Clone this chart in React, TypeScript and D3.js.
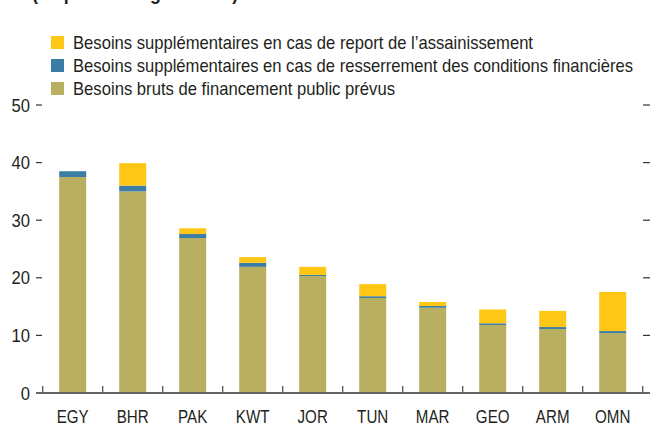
import React, { useRef, useEffect } from 'react';
import * as d3 from 'd3';

// Countries (x axis)
const countries = ['EGY', 'BHR', 'PAK', 'KWT', 'JOR', 'TUN', 'MAR', 'GEO', 'ARM', 'OMN'];

// Stacked series, % of GDP
const grossNeeds = [37.5, 35.0, 26.9, 21.9, 20.3, 16.5, 14.8, 11.8, 11.1, 10.4];
const tighteningNeeds = [1.0, 1.0, 0.7, 0.7, 0.2, 0.3, 0.3, 0.3, 0.35, 0.35];
const delayNeeds = [0.0, 3.9, 1.0, 1.0, 1.4, 2.1, 0.7, 2.4, 2.8, 6.8];

const yTicks = [0, 10, 20, 30, 40, 50];

const seriesLabels = [
  'Besoins supplémentaires en cas de report de l’assainissement',
  'Besoins supplémentaires en cas de resserrement des conditions financières',
  'Besoins bruts de financement public prévus',
];
const seriesColors = ['#FEC715', '#3B7DA5', '#B8B060'];

const FONT = '"Liberation Sans", Arial, sans-serif';
const SQUEEZE = 0.82; // condensed look

const App = () => {
  const ref = useRef<SVGSVGElement>(null);
  const width = 650;
  const height = 425;

  useEffect(() => {
    const svg = d3.select(ref.current);
    svg.selectAll('*').remove();

    const x = d3.scaleBand()
      .domain(countries)
      .range([42.7, 642.7])
      .paddingInner(0.55)
      .paddingOuter(0.275);

    const y = d3.scaleLinear()
      .domain([0, 50])
      .range([393, 105]);

    const rows = countries.map((c, i) => ({
      country: c,
      gross: grossNeeds[i],
      tight: tighteningNeeds[i],
      delay: delayNeeds[i],
    }));

    const stack = d3.stack().keys(['gross', 'tight', 'delay']);
    const layers = stack(rows as any);
    const layerColors = [seriesColors[2], seriesColors[1], seriesColors[0]];

    // Title (cut off at top, only descenders show)
    svg.append('text')
      .attr('transform', 'translate(32,0) scale(0.85,1)')
      .attr('font-family', FONT)
      .attr('font-weight', 'bold')
      .attr('font-size', 21)
      .attr('fill', '#231F20')
      .text('(en pourcentage du PIB)');

    // Bars
    layers.forEach((layer, li) => {
      svg.append('g')
        .attr('fill', layerColors[li])
        .selectAll('rect')
        .data(layer)
        .join('rect')
        .attr('x', (d: any) => x(d.data.country)!)
        .attr('y', d => y(d[1]))
        .attr('width', x.bandwidth())
        .attr('height', d => y(d[0]) - y(d[1]));
    });

    // Y ticks left and right
    const tickG = svg.append('g').attr('stroke', '#333').attr('stroke-width', 1.2);
    tickG.selectAll('line.l')
      .data(yTicks.filter(t => t > 0))
      .join('line')
      .attr('class', 'l')
      .attr('x1', 36).attr('x2', 42)
      .attr('y1', d => y(d)).attr('y2', d => y(d));
    tickG.selectAll('line.r')
      .data(yTicks.filter(t => t > 0))
      .join('line')
      .attr('class', 'r')
      .attr('x1', 643).attr('x2', 650)
      .attr('y1', d => y(d)).attr('y2', d => y(d));

    svg.append('g')
      .selectAll('text')
      .data(yTicks)
      .join('text')
      .attr('transform', d => `translate(30,${y(d)}) scale(0.9,1)`)
      .attr('dy', '0.36em')
      .attr('text-anchor', 'end')
      .attr('font-family', FONT)
      .attr('font-size', 18.5)
      .attr('fill', '#231F20')
      .text(d => d);

    // X axis
    const step = x.step();
    const gap = (step - x.bandwidth()) / 2;
    const xTickPos = countries.map(c => x(c)! - gap);
    xTickPos.push(x(countries[countries.length - 1])! + x.bandwidth() + gap);

    svg.append('g')
      .attr('stroke', '#555')
      .attr('stroke-width', 1.3)
      .selectAll('line')
      .data(xTickPos)
      .join('line')
      .attr('x1', d => d).attr('x2', d => d)
      .attr('y1', 386).attr('y2', 393);

    svg.append('line')
      .attr('x1', 36).attr('x2', 650)
      .attr('y1', y(0)).attr('y2', y(0))
      .attr('stroke', '#666')
      .attr('stroke-width', 2);

    svg.append('g')
      .selectAll('text')
      .data(countries)
      .join('text')
      .attr('transform', d => `translate(${x(d)! + x.bandwidth() / 2},422.5) scale(${SQUEEZE},1)`)
      .attr('text-anchor', 'middle')
      .attr('font-family', FONT)
      .attr('font-size', 18.5)
      .attr('fill', '#231F20')
      .text(d => d);

    // Legend
    const legendEnds = [533, 633, 395];
    const legend = svg.append('g');
    seriesLabels.forEach((label, i) => {
      const cy = 42.5 + i * 23;
      legend.append('rect')
        .attr('x', 51).attr('y', cy - 6.5)
        .attr('width', 13).attr('height', 13)
        .attr('fill', seriesColors[i]);
      legend.append('text')
        .attr('x', 73)
        .attr('y', cy + 6.5)
        .attr('font-family', FONT)
        .attr('font-size', 18.5)
        .attr('fill', '#231F20')
        .attr('textLength', legendEnds[i] - 73)
        .attr('lengthAdjust', 'spacingAndGlyphs')
        .text(label);
    });
  }, []);

  return (
    <svg
      ref={ref}
      width={width}
      height={height}
      style={{ display: 'block', position: 'absolute', left: 0, top: 0 }}
    />
  );
};

export default App;
